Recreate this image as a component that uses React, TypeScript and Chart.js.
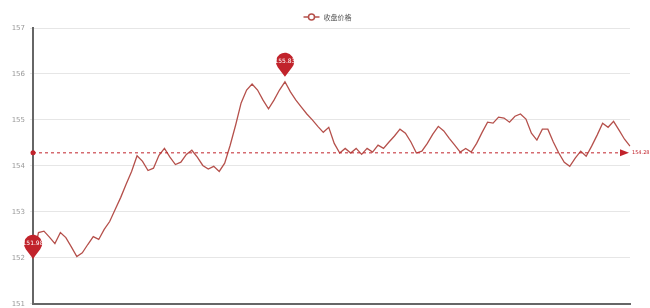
import React, { useEffect, useRef } from "react";
import { Chart, registerables } from "chart.js";

Chart.register(...registerables);

const seriesName = "收盘价格";
const prices: number[] = [
  151.98, 152.55, 152.58, 152.45, 152.31, 152.55, 152.44, 152.24, 152.03, 152.11,
  152.29, 152.46, 152.40, 152.62, 152.79, 153.05, 153.31, 153.60, 153.88, 154.22,
  154.10, 153.90, 153.95, 154.23, 154.38, 154.19, 154.03, 154.08, 154.25, 154.34,
  154.19, 154.01, 153.93, 153.99, 153.88, 154.06, 154.45, 154.89, 155.37, 155.65,
  155.78, 155.65, 155.43, 155.24, 155.43, 155.65, 155.83, 155.61, 155.43, 155.28,
  155.13, 155.00, 154.86, 154.73, 154.84, 154.49, 154.28, 154.38, 154.28, 154.38,
  154.25, 154.38, 154.30, 154.45, 154.38, 154.52, 154.65, 154.80, 154.71, 154.52,
  154.28, 154.32, 154.49, 154.69, 154.86, 154.76, 154.60, 154.45, 154.30, 154.38,
  154.30, 154.49, 154.73, 154.95, 154.93, 155.06, 155.04, 154.95, 155.08, 155.13,
  155.02, 154.71, 154.56, 154.80, 154.80, 154.52, 154.28, 154.08, 153.99, 154.17,
  154.32, 154.21, 154.43, 154.67, 154.93, 154.84, 154.97, 154.78, 154.58, 154.43,
];
const categories: string[] = prices.map((_, i) => String(i + 1));
const yMin = 151;
const yMax = 157;
const yStep = 1;

const lineColor = "#b5504b";
const markColor = "#c1232b";

function drawPin(ctx: CanvasRenderingContext2D, x: number, tipY: number, text: string) {
  const r = 9;
  const cy = tipY - 15;
  ctx.save();
  ctx.fillStyle = markColor;
  ctx.beginPath();
  const d = tipY - cy;
  const a = Math.acos(r / d);
  ctx.moveTo(x, tipY);
  ctx.arc(x, cy, r, Math.PI / 2 + a, Math.PI / 2 - a + 2 * Math.PI, false);
  ctx.closePath();
  ctx.fill();
  ctx.fillStyle = "#fff";
  ctx.font = "6px 'DejaVu Sans', sans-serif";
  ctx.textAlign = "center";
  ctx.textBaseline = "middle";
  ctx.fillText(text, x, cy);
  ctx.restore();
}

const markPlugin = {
  id: "marks",
  afterDatasetsDraw(chart: any) {
    const ctx = chart.ctx as CanvasRenderingContext2D;
    const xs = chart.scales.x;
    const ys = chart.scales.y;
    const ca = chart.chartArea;
    let maxI = 0;
    let minI = 0;
    prices.forEach((v, i) => {
      if (v > prices[maxI]) maxI = i;
      if (v < prices[minI]) minI = i;
    });
    const avg = prices.reduce((a, b) => a + b, 0) / prices.length;
    const ay = ys.getPixelForValue(avg);
    const x0 = xs.getPixelForValue(0);
    const x1 = xs.getPixelForValue(prices.length - 1) - 8;
    ctx.save();
    ctx.strokeStyle = markColor;
    ctx.lineWidth = 1;
    ctx.setLineDash([3, 3]);
    ctx.beginPath();
    ctx.moveTo(x0, ay);
    ctx.lineTo(x1, ay);
    ctx.stroke();
    ctx.setLineDash([]);
    ctx.fillStyle = markColor;
    ctx.beginPath();
    ctx.arc(x0, ay, 2.5, 0, Math.PI * 2);
    ctx.fill();
    ctx.beginPath();
    ctx.moveTo(x1 - 2, ay - 3.5);
    ctx.lineTo(x1 + 7, ay);
    ctx.lineTo(x1 - 2, ay + 3.5);
    ctx.closePath();
    ctx.fill();
    ctx.font = "5px 'DejaVu Sans', sans-serif";
    ctx.textAlign = "left";
    ctx.textBaseline = "middle";
    ctx.fillText(avg.toFixed(2), x1 + 10, ay);
    ctx.restore();
    drawPin(ctx, xs.getPixelForValue(maxI), ys.getPixelForValue(prices[maxI]) - 5, prices[maxI].toFixed(2));
    drawPin(ctx, xs.getPixelForValue(minI), ys.getPixelForValue(prices[minI]), prices[minI].toFixed(2));
    const lx = (ca.left + ca.right) / 2 - 14;
    const ly = 17;
    ctx.save();
    ctx.strokeStyle = lineColor;
    ctx.lineWidth = 1.5;
    ctx.beginPath();
    ctx.moveTo(lx - 14, ly);
    ctx.lineTo(lx + 2, ly);
    ctx.stroke();
    ctx.fillStyle = "#fff";
    ctx.beginPath();
    ctx.arc(lx - 6, ly, 3, 0, Math.PI * 2);
    ctx.fill();
    ctx.stroke();
    ctx.fillStyle = "#555";
    ctx.font = "7px 'Noto Sans CJK SC', sans-serif";
    ctx.textAlign = "left";
    ctx.textBaseline = "middle";
    ctx.fillText(seriesName, lx + 6, ly);
    ctx.restore();
  },
};

export default function App() {
  const ref = useRef<HTMLCanvasElement>(null);
  useEffect(() => {
    document.body.style.margin = "0";
    const chart = new Chart(ref.current!, {
      type: "line",
      data: {
        labels: categories,
        datasets: [
          {
            label: seriesName,
            data: prices,
            borderColor: lineColor,
            borderWidth: 1.3,
            pointRadius: 0,
            tension: 0,
            fill: false,
          },
        ],
      },
      options: {
        responsive: false,
        animation: false,
        layout: { padding: { left: 0, top: 28, right: 20, bottom: 1 } },
        plugins: { legend: { display: false }, tooltip: { enabled: false } },
        scales: {
          x: {
            offset: false,
            ticks: { display: false },
            grid: { display: false },
            border: { color: "#666", width: 2 },
            afterFit: (s: any) => {
              s.height = 0;
            },
          },
          y: {
            min: yMin,
            max: yMax,
            ticks: {
              stepSize: yStep,
              color: "#999",
              font: { size: 7, family: "'DejaVu Sans', sans-serif" },
              padding: 5,
            },
            grid: { color: "#e6e6e6", tickLength: 3 },
            border: { color: "#666", width: 2 },
            afterFit: (s: any) => {
              s.width = 33;
            },
          },
        },
      },
      plugins: [markPlugin],
    });
    return () => chart.destroy();
  }, []);
  return (
    <div style={{ width: 650, height: 308, overflow: "hidden" }}>
      <canvas ref={ref} width={650} height={313} style={{ display: "block" }} />
    </div>
  );
}
